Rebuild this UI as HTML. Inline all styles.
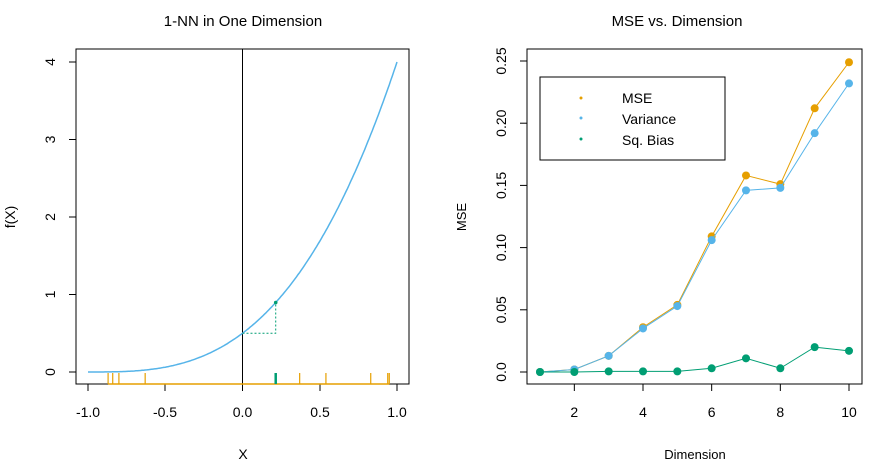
<!DOCTYPE html>
<html><head><meta charset="utf-8"><style>body{margin:0;background:#fff}svg{display:block}text{font-family:"Liberation Sans",Arial,sans-serif;fill:#000}</style></head>
<body>
<svg id="s" width="869" height="469" viewBox="0 0 869 469" xmlns="http://www.w3.org/2000/svg">
<rect width="869" height="469" fill="#fff"/>
<text x="243" y="26" font-size="15" text-anchor="middle">1-NN in One Dimension</text>
<rect x="76" y="49" width="333" height="335" fill="none" stroke="#000" stroke-width="1"/>
<line x1="242.5" y1="49" x2="242.5" y2="384" stroke="#000" stroke-width="1"/>
<g stroke="#000" stroke-width="1">
<line x1="88" y1="384" x2="88" y2="391"/><line x1="165" y1="384" x2="165" y2="391"/><line x1="242.5" y1="384" x2="242.5" y2="391"/><line x1="320" y1="384" x2="320" y2="391"/><line x1="397" y1="384" x2="397" y2="391"/>
<line x1="69" y1="372" x2="76" y2="372"/><line x1="69" y1="294.5" x2="76" y2="294.5"/><line x1="69" y1="217" x2="76" y2="217"/><line x1="69" y1="139.5" x2="76" y2="139.5"/><line x1="69" y1="62" x2="76" y2="62"/>
</g>
<g font-size="14" text-anchor="middle">
<text x="88" y="417">-1.0</text><text x="165" y="417">-0.5</text><text x="242.5" y="417">0.0</text><text x="320" y="417">0.5</text><text x="397" y="417">1.0</text>
<text transform="translate(55,372) rotate(-90)">0</text><text transform="translate(55,294.5) rotate(-90)">1</text><text transform="translate(55,217) rotate(-90)">2</text><text transform="translate(55,139.5) rotate(-90)">3</text><text transform="translate(55,62) rotate(-90)">4</text>
<text x="243" y="459">X</text>
<text transform="translate(15,217) rotate(-90)">f(X)</text>
</g>
<path id="curve" fill="none" stroke="#56B4E9" stroke-width="1.5"/>
<g id="rug"></g>
<text x="677" y="26" font-size="15" text-anchor="middle">MSE  vs. Dimension</text>
<rect x="527" y="49" width="335" height="335" fill="none" stroke="#000" stroke-width="1"/>
<g id="rt" stroke="#000" stroke-width="1"></g>
<g id="rl" font-size="14" text-anchor="middle"></g>
<text x="695" y="459" font-size="13" text-anchor="middle">Dimension</text>
<text transform="translate(466,217) rotate(-90)" font-size="13" text-anchor="middle">MSE</text>
<rect x="540" y="77" width="185" height="83" fill="#fff" stroke="#000" stroke-width="1"/>
<circle cx="581" cy="98" r="1.5" fill="#E69F00"/><circle cx="581" cy="118" r="1.5" fill="#56B4E9"/><circle cx="581" cy="139" r="1.5" fill="#009E73"/>
<g font-size="14"><text x="622" y="103">MSE</text><text x="622" y="124">Variance</text><text x="622" y="145">Sq. Bias</text></g>
<g id="series"></g>
</svg>
<script>
var NS="http://www.w3.org/2000/svg";
function el(t,a,p){var e=document.createElementNS(NS,t);for(var k in a)e.setAttribute(k,a[k]);document.getElementById(p).appendChild(e);return e;}
function lx(x){return 242.5+x*154.5;} function ly(y){return 372-y*77.5;}
var d="";for(var i=0;i<=200;i++){var x=-1+i/100;d+=(i?"L":"M")+lx(x).toFixed(1)+","+ly(Math.pow(1+x,3)/2).toFixed(1);}
document.getElementById("curve").setAttribute("d",d);
el("line",{x1:lx(-0.87),y1:384,x2:lx(0.95),y2:384,stroke:"#E69F00","stroke-width":1.5},"rug");
[-0.87,-0.84,-0.8,-0.63,0.37,0.54,0.83,0.94,0.95].forEach(function(x){el("line",{x1:lx(x),y1:384,x2:lx(x),y2:373,stroke:"#E69F00","stroke-width":1.2},"rug");});
el("line",{x1:lx(0.215),y1:384,x2:lx(0.215),y2:373,stroke:"#009E73","stroke-width":2.5},"rug");
var fy=ly(Math.pow(1.215,3)/2);
el("polyline",{points:lx(0)+","+ly(0.5)+" "+lx(0.215)+","+ly(0.5)+" "+lx(0.215)+","+fy,fill:"none",stroke:"#009E73","stroke-width":1,"stroke-dasharray":"2,2"},"rug");
el("circle",{cx:lx(0.215),cy:fy,r:1.8,fill:"#009E73"},"rug");
function rx(d){return 540+(d-1)*(309/9);} function ry(v){return 372-v*1244;}
[2,4,6,8,10].forEach(function(d){el("line",{x1:rx(d),y1:384,x2:rx(d),y2:391},"rt");var t=el("text",{x:rx(d),y:417},"rl");t.textContent=d;});
["0.0","0.05","0.10","0.15","0.20","0.25"].forEach(function(s,i){var y=ry(i*0.05);el("line",{x1:520,y1:y,x2:527,y2:y},"rt");var t=el("text",{transform:"translate(506,"+y+") rotate(-90)"},"rl");t.textContent=s;});
var S=[["#E69F00",[0,0.002,0.013,0.036,0.054,0.109,0.158,0.151,0.212,0.249]],["#56B4E9",[0,0.002,0.013,0.035,0.053,0.106,0.146,0.148,0.192,0.232]],["#009E73",[0,0,0.0005,0.0005,0.0005,0.003,0.011,0.003,0.020,0.017]]];
S.forEach(function(s){var p=s[1].map(function(v,i){return rx(i+1)+","+ry(v);}).join(" ");el("polyline",{points:p,fill:"none",stroke:s[0],"stroke-width":1},"series");s[1].forEach(function(v,i){el("circle",{cx:rx(i+1),cy:ry(v),r:4,fill:s[0]},"series");});});
</script>
</body></html>
